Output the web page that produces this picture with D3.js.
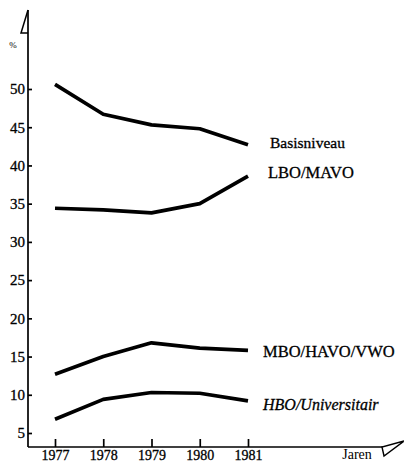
<!DOCTYPE html>
<html><head><meta charset="utf-8">
<script src="https://cdn.jsdelivr.net/npm/d3@7"></script>
<style>body{margin:0;background:#fff}svg{display:block}
text{font-family:"Liberation Serif","Times New Roman","DejaVu Serif",serif !important;}</style>
</head><body>
<script>
const years = [1977, 1978, 1979, 1980, 1981];
const seriesNames = ["Basisniveau", "LBO/MAVO", "MBO/HAVO/VWO", "HBO/Universitair"];
const basisniveau = [50.6, 46.7, 45.3, 44.8, 42.7];
const lboMavo = [34.4, 34.2, 33.8, 35.0, 38.6];
const mboHavoVwo = [12.7, 15.0, 16.8, 16.1, 15.8];
const hboUniv = [6.8, 9.4, 10.3, 10.2, 9.2];
const yTicks = [5, 10, 15, 20, 25, 30, 35, 40, 45, 50];
const xLabel = "Jaren";
const yLabel = "%";

const W = 404, H = 463;
const svg = d3.select("body").append("svg").attr("width", W).attr("height", H);
const font = "'Liberation Serif', 'Times New Roman', 'DejaVu Serif', serif";

const x = d3.scaleLinear().domain([1977, 1981]).range([55, 248]);
const y = d3.scaleLinear().domain([5, 50]).range([433, 89]);
const axisX = 28, axisY = 447;

// axis lines
svg.append("line").attr("x1", axisX).attr("x2", axisX).attr("y1", 10).attr("y2", axisY)
  .attr("stroke", "#000").attr("stroke-width", 1.7);
svg.append("line").attr("x1", axisX).attr("x2", 392).attr("y1", axisY).attr("y2", axisY)
  .attr("stroke", "#000").attr("stroke-width", 1.7);
// arrowheads
svg.append("path").attr("d", `M${axisX},10 L21,33 L${axisX},33`).attr("fill", "none")
  .attr("stroke", "#000").attr("stroke-width", 1.5);
svg.append("path").attr("d", "M382,447 L384,456 L404,441 Z").attr("fill", "#fff")
  .attr("stroke", "#000").attr("stroke-width", 1.4);

// y axis
const gy = svg.append("g").attr("transform", `translate(${axisX},0)`)
  .call(d3.axisLeft(y).tickValues(yTicks).tickSizeInner(-4).tickSizeOuter(0).tickPadding(3));
gy.attr("font-family", null);
gy.select(".domain").remove();
gy.selectAll(".tick line").attr("stroke-width", 1.7);
gy.selectAll(".tick text").style("font-family", font).attr("font-size", 15)
  .attr("fill", "#000").attr("stroke", "#000").attr("stroke-width", 0.3);

// x axis
const gx = svg.append("g").attr("transform", `translate(0,${axisY})`)
  .call(d3.axisBottom(x).tickValues(years).tickFormat(d3.format("d")).tickSizeInner(-8).tickSizeOuter(0).tickPadding(3));
gx.attr("font-family", null);
gx.select(".domain").remove();
gx.selectAll(".tick line").attr("stroke-width", 1.7);
gx.selectAll(".tick text").style("font-family", font).attr("font-size", 14)
  .attr("fill", "#000").attr("stroke", "#000").attr("stroke-width", 0.3);

svg.append("text").attr("x", 357).attr("y", 459).attr("text-anchor", "middle")
  .style("font-family", font).attr("font-size", 14).text(xLabel);
svg.append("text").attr("x", 13).attr("y", 48).attr("text-anchor", "middle")
  .style("font-family", font).attr("font-size", 9).attr("fill", "#000").text(yLabel);

// lines
const allSeries = [basisniveau, lboMavo, mboHavoVwo, hboUniv];
const line = d3.line().x((d, i) => x(years[i])).y(d => y(d));
svg.selectAll("path.series").data(allSeries).enter().append("path")
  .attr("class", "series").attr("d", line).attr("fill", "none")
  .attr("stroke", "#000").attr("stroke-width", 3.7).attr("stroke-linejoin", "round");

// labels
const labelPos = [
  {x: 270, y: 148, size: 15.5, italic: false},
  {x: 268, y: 178, size: 16.5, italic: false},
  {x: 263, y: 357, size: 16.5, italic: false},
  {x: 263, y: 410, size: 16, italic: true}
];
seriesNames.forEach((n, i) => {
  svg.append("text").attr("x", labelPos[i].x).attr("y", labelPos[i].y)
    .style("font-family", font).attr("font-size", labelPos[i].size)
    .attr("stroke", "#000").attr("stroke-width", 0.3)
    .attr("font-style", labelPos[i].italic ? "italic" : "normal").text(n);
});
</script>
</body></html>
